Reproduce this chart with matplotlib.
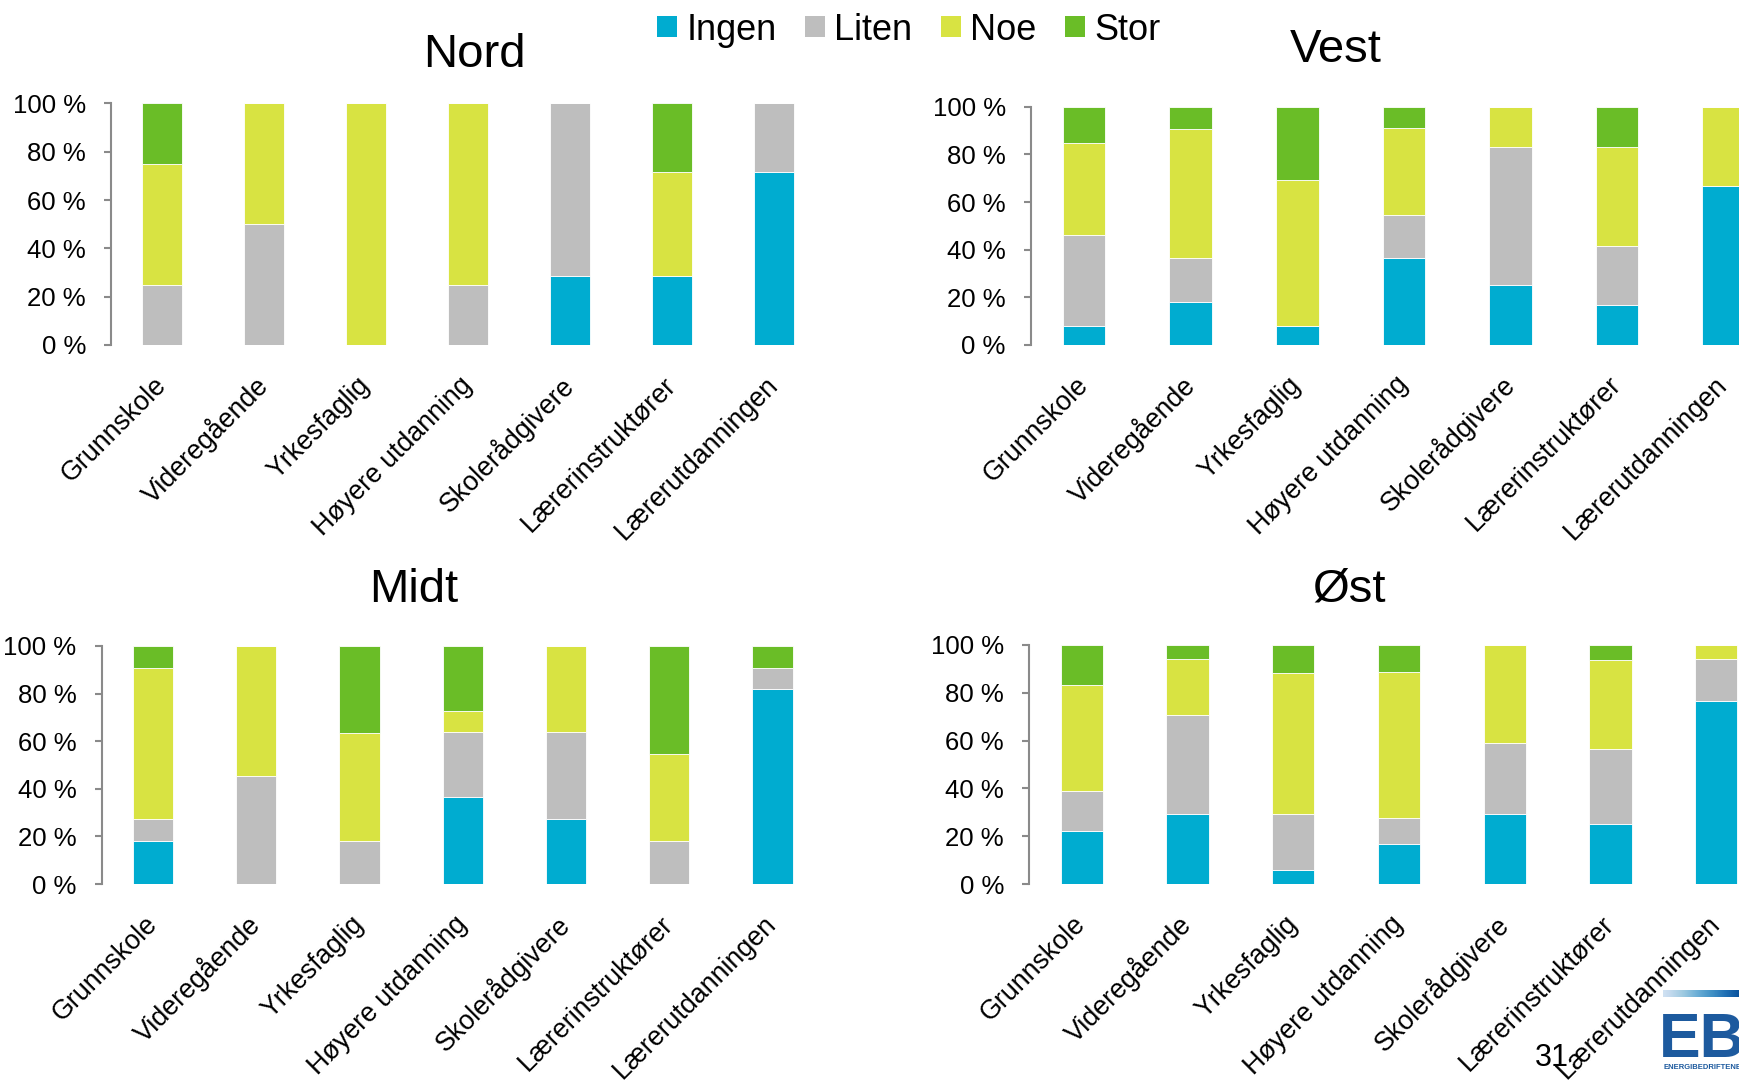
import numpy as np
import matplotlib
matplotlib.use("Agg")
import matplotlib.pyplot as plt
from matplotlib.patches import Patch

plt.rcParams.update({"font.family": ["Liberation Sans", "DejaVu Sans"]})

W, H = 1739, 1080
INGEN, LITEN, NOE, STOR = "#00acd0", "#bebebe", "#d8e342", "#6abd27"
COLORS = [INGEN, LITEN, NOE, STOR]
SERIES = ["Ingen", "Liten", "Noe", "Stor"]

categories = ["Grunnskole", "Videregående", "Yrkesfaglig", "Høyere utdanning",
              "Skolerådgivere", "Lærerinstruktører", "Lærerutdanningen"]

# percent per category
nord_ingen = [0, 0, 0, 0, 28.6, 28.6, 71.4]
nord_liten = [25, 50, 0, 25, 71.4, 0, 28.6]
nord_noe = [50, 50, 100, 75, 0, 42.8, 0]
nord_stor = [25, 0, 0, 0, 0, 28.6, 0]

vest_ingen = [7.7, 18.2, 7.7, 36.4, 25.0, 16.7, 66.7]
vest_liten = [38.5, 18.2, 0, 18.2, 58.3, 25.0, 0]
vest_noe = [38.5, 54.5, 61.5, 36.4, 16.7, 41.6, 33.3]
vest_stor = [15.3, 9.1, 30.8, 9.0, 0, 16.7, 0]

midt_ingen = [18.2, 0, 0, 36.4, 27.3, 0, 81.8]
midt_liten = [9.1, 45.5, 18.2, 27.3, 36.4, 18.2, 9.1]
midt_noe = [63.6, 54.5, 45.4, 9.1, 36.3, 36.4, 0]
midt_stor = [9.1, 0, 36.4, 27.2, 0, 45.4, 9.1]

ost_ingen = [22.2, 29.4, 5.9, 16.7, 29.4, 25.0, 76.5]
ost_liten = [16.7, 41.2, 23.5, 11.1, 29.4, 31.3, 17.6]
ost_noe = [44.4, 23.5, 58.8, 61.1, 41.2, 37.5, 5.9]
ost_stor = [16.7, 5.9, 11.8, 11.1, 0, 6.2, 0]


def px_rect(left, top, right, bottom):
    return [left / W, 1 - bottom / H, (right - left) / W, (bottom - top) / H]


def panel(fig, rect, title, title_xy, vals, width):
    ax = fig.add_axes(px_rect(*rect))
    x = np.arange(len(categories))
    bottom = np.zeros(len(categories))
    for v, c in zip(vals, COLORS):
        v = np.array(v) / 100.0
        ax.bar(x, v, width, bottom=bottom, color=c, edgecolor="white", linewidth=0.6)
        bottom += v
    ax.set_xlim(-0.5, len(categories) - 0.5)
    ax.set_ylim(0, 1)
    ax.set_yticks(np.linspace(0, 1, 6))
    ax.set_yticklabels([f"{t} %" for t in range(0, 101, 20)], fontsize=18.5)
    ax.set_xticks(x)
    ax.set_xticklabels(categories, rotation=45, ha="right", va="center",
                       rotation_mode="anchor", fontsize=19.3)
    for s in ["top", "right", "bottom"]:
        ax.spines[s].set_visible(False)
    ax.spines["left"].set_color("#8a8a8a")
    ax.spines["left"].set_linewidth(1.5)
    ax.tick_params(axis="y", length=5, width=1.5, color="#8a8a8a", pad=13)
    ax.tick_params(axis="x", length=0, pad=26)
    fig.text(title_xy[0] / W, 1 - title_xy[1] / H, title, fontsize=34,
             ha="center", va="baseline")
    return ax


fig = plt.figure(figsize=(W / 100, H / 100), dpi=100)

panel(fig, (111, 103.4, 825, 345), "Nord", (474.5, 67),
      [nord_ingen, nord_liten, nord_noe, nord_stor], 0.39)
panel(fig, (1030.7, 106.9, 1777, 344.8), "Vest", (1336, 62),
      [vest_ingen, vest_liten, vest_noe, vest_stor], 0.40)
panel(fig, (101.5, 645.9, 824, 884.1), "Midt", (414, 602),
      [midt_ingen, midt_liten, midt_noe, midt_stor], 0.39)
panel(fig, (1029, 645, 1769, 884), "Øst", (1349.5, 602),
      [ost_ingen, ost_liten, ost_noe, ost_stor], 0.40)

handles = [Patch(facecolor=c, edgecolor="none") for c in COLORS]
fig.legend(handles, SERIES, loc="center", bbox_to_anchor=(909 / W, 1 - 30 / H),
           ncol=4, frameon=False, fontsize=26, handlelength=0.53, handleheight=0.53,
           handletextpad=0.27, columnspacing=0.8, borderpad=0, borderaxespad=0)

# page number and logo
fig.text(1535 / W, 1 - 1066 / H, "31", fontsize=22, ha="left", va="baseline")
lg = fig.add_axes(px_rect(1663, 990, 1739, 997))
lg.imshow(np.linspace(0, 1, 100)[None, :], aspect="auto", cmap="Blues",
          vmin=-0.3, vmax=1.2)
lg.axis("off")
fig.text(1659 / W, 1 - 1057 / H, "EB", fontsize=45, fontweight="heavy",
         color="#1d5a9e", ha="left", va="baseline")
fig.text(1663 / W, 1 - 1069 / H, "ENERGIBEDRIFTENE", fontsize=5.5,
         fontweight="bold", color="#1d5a9e", ha="left", va="baseline")

fig.savefig("out.png", dpi=100)
